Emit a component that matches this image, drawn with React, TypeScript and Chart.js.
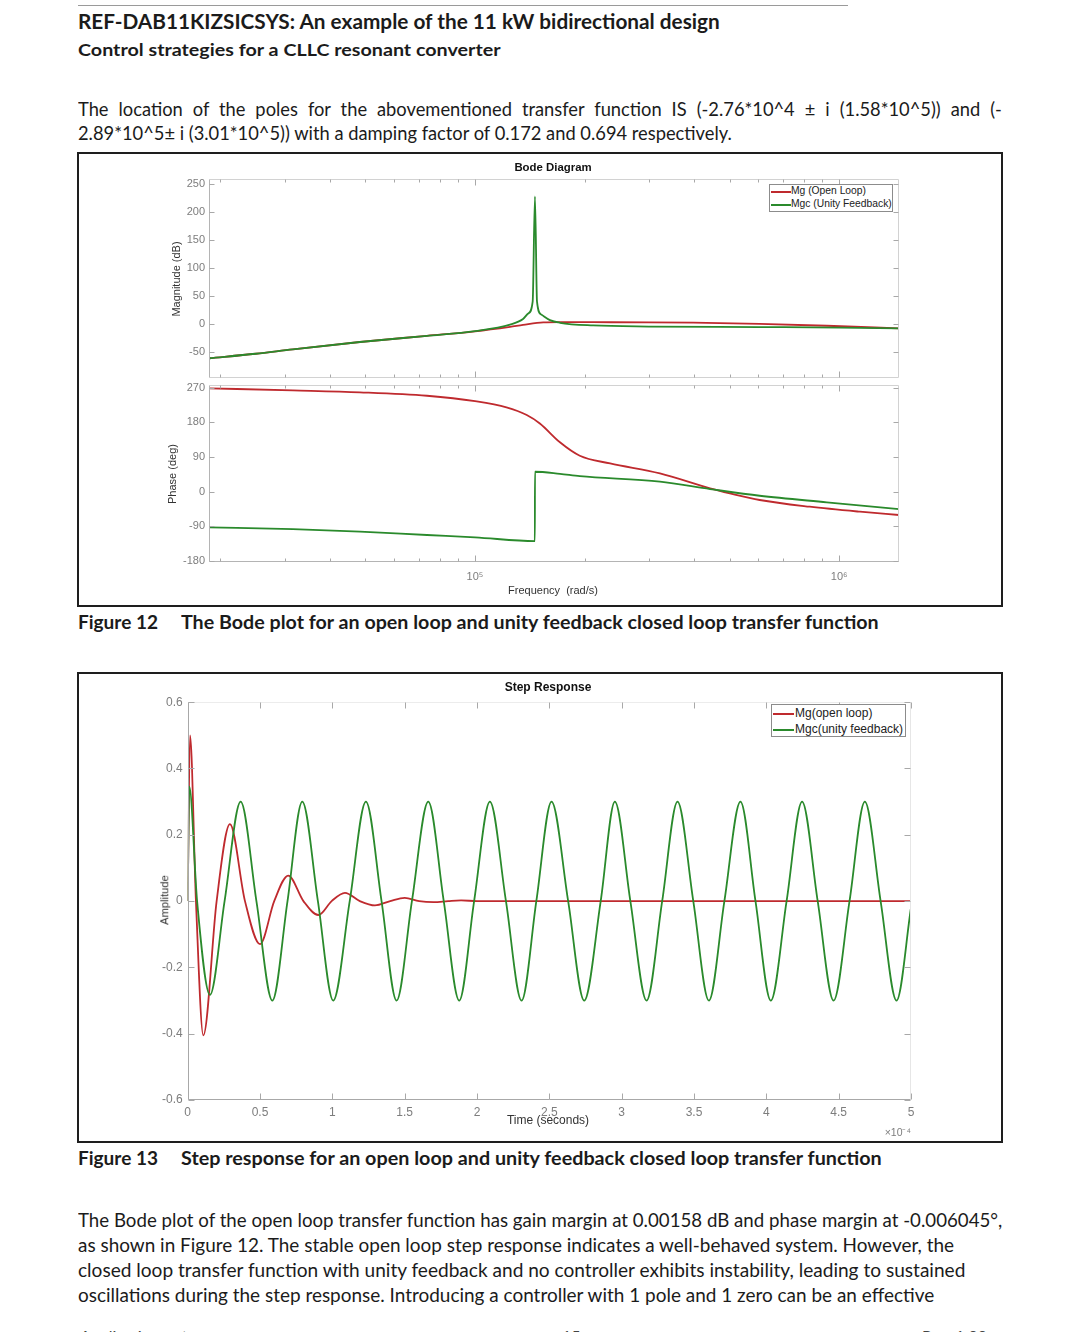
import React, { useEffect, useRef } from 'react';
import { Chart, registerables } from 'chart.js';
Chart.register(...registerables);

// ---------------- data ----------------
// Bode magnitude, open loop (rad/s, dB)
const magFreqOpen = [1.86e4, 2.5e4, 3.16e4, 4.83e4, 7.38e4, 1e5, 1.248e5, 1.355e5, 1.54e5, 1.711e5, 2.11e5, 3e5, 3.97e5, 6.05e5, 9.25e5, 1.46e6];
const magOpen = [-61, -53, -45, -32, -21, -13, -5, -1.5, 3, 3.5, 3.3, 3, 2.4, 0.5, -3, -7.8];
// Bode magnitude, unity feedback
const magFreqClosed = [1.86e4, 2.5e4, 3.16e4, 4.83e4, 7.38e4, 1e5, 1.248e5, 1.355e5, 1.4e5, 1.44e5, 1.461e5, 1.48e5, 1.52e5, 1.606e5, 1.711e5, 2.11e5, 3e5, 6e5, 1e6, 1.46e6];
const magClosed = [-61, -53, -45, -32, -21, -12.5, -1, 9, 19, 40, 228, 40, 17, 7, 2.3, -2.5, -4.5, -5.4, -6.2, -7.8];
// Bode phase, open loop (deg)
const phaseFreqOpen = [1.86e4, 3.16e4, 4.83e4, 7.38e4, 1e5, 1.22e5, 1.387e5, 1.507e5, 1.711e5, 1.94e5, 2.35e5, 3.22e5, 4.42e5, 5.01e5, 6.05e5, 8.3e5, 1.14e6, 1.46e6];
const phaseOpen = [268.4, 263, 258, 249, 235, 219, 199, 177, 128, 93, 73, 47, 8.3, -4.7, -22, -39.5, -52.5, -61];
// Bode phase, unity feedback
const phaseFreqClosed = [1.86e4, 3.16e4, 4.83e4, 7.38e4, 1e5, 1.46e5, 1.461e5, 1.711e5, 1.94e5, 3.22e5, 4.42e5, 6.05e5, 9.25e5, 1.46e6];
const phaseClosed = [-93, -98, -104, -113, -119, -129, 51.5, 46, 40, 25.5, 6.5, -11, -28, -45.5];

const bodeFreqTicks = [2e4, 3e4, 4e4, 5e4, 6e4, 7e4, 8e4, 9e4, 1e5, 2e5, 3e5, 4e5, 5e5, 6e5, 7e5, 8e5, 9e5, 1e6];
const bodeFreqMajor = [1e5, 1e6];
const bodeFreqMajorLabels = ['10\u2075', '10\u2076'];
const magTicks = [-50, 0, 50, 100, 150, 200, 250];
const magTickLabels = ['-50', '0', '50', '100', '150', '200', '250'];
const phaseTicks = [-180, -90, 0, 90, 180, 270];
const phaseTickLabels = ['-180', '-90', '0', '90', '180', '270'];

// Step response (time in units of 1e-4 s)
const stepTimeOpen = [0, 0.016, 0.057, 0.108, 0.2, 0.292, 0.396, 0.5, 0.598, 0.695, 0.8, 0.903, 0.995, 1.087, 1.19, 1.294, 1.4, 1.5, 1.6, 1.7, 1.8, 1.89, 2.0, 5.0];
const stepOpen = [0, 0.5, 0, -0.405, 0, 0.232, 0, -0.13, 0, 0.077, 0, -0.042, 0, 0.025, 0, -0.013, 0, 0.01, 0, -0.003, 0, 0.002, 0, 0];
const stepTimeClosed = [0, 0.011, 0.065, 0.154, 0.255, 0.366, 0.475, 0.585, 0.69, 0.792, 0.9, 1.006, 1.12, 1.232, 1.34, 1.444, 1.55, 1.663, 1.77, 1.877, 1.98, 2.089, 2.2, 2.308, 2.41, 2.515, 2.63, 2.741, 2.855, 2.953, 3.06, 3.172, 3.28, 3.386, 3.495, 3.603, 3.71, 3.821, 3.925, 4.031, 4.14, 4.247, 4.355, 4.465, 4.575, 4.681, 4.79, 4.9, 5.0];
const stepClosed = [0, 0.345, 0, -0.283, 0, 0.3, 0, -0.3, 0, 0.3, 0, -0.3, 0, 0.3, 0, -0.3, 0, 0.3, 0, -0.3, 0, 0.3, 0, -0.3, 0, 0.3, 0, -0.3, 0, 0.3, 0, -0.3, 0, 0.3, 0, -0.3, 0, 0.3, 0, -0.3, 0, 0.3, 0, -0.3, 0, 0.3, 0, -0.3, -0.02];
const stepXTicks = [0, 0.5, 1, 1.5, 2, 2.5, 3, 3.5, 4, 4.5, 5];
const stepXTickLabels = ['0', '0.5', '1', '1.5', '2', '2.5', '3', '3.5', '4', '4.5', '5'];
const stepYTicks = [-0.6, -0.4, -0.2, 0, 0.2, 0.4, 0.6];
const stepYTickLabels = ['-0.6', '-0.4', '-0.2', '0', '0.2', '0.4', '0.6'];

// ---------------- styles ----------------
const RED = '#bf2a2e';
const GREEN = '#2a8a2c';
const BODY = "Lato, 'Open Sans', sans-serif";
const PLOT = "'Liberation Sans', Arial, sans-serif";
const TICK_TXT = '#7d7d7d';
const LBL_TXT = '#333333';

let mctx: CanvasRenderingContext2D | null = null;
function textWidth(text: string, font: string) {
  if (!mctx) mctx = document.createElement('canvas').getContext('2d');
  mctx!.font = font;
  return mctx!.measureText(text).width;
}

type TP = { x: number; base: number; size: number; text: string; weight?: number; width?: number; justify?: boolean; scale?: number; family?: string; color?: string; asc?: number };
function Txt({ x, base, size, text, weight = 400, width, justify, scale = 1, family = BODY, color = '#1b1b1b', asc = 0.987 }: TP) {
  const font = `${weight} ${size}px ${family}`;
  const nat = textWidth(text, font);
  let sx = 1;
  let ws = 0;
  if (width && !justify) sx = width / nat;
  if (width && justify) {
    sx = scale;
    const n = text.split(' ').length - 1;
    ws = (width / sx - nat) / n;
  }
  return (
    <div style={{ position: 'absolute', left: x, top: base - asc * size, fontFamily: family, fontSize: size, fontWeight: weight, lineHeight: `${size * 1.2}px`, whiteSpace: 'pre', color, transform: `scaleX(${sx})`, transformOrigin: 'left top', wordSpacing: `${ws}px` }}>{text}</div>
  );
}

function Center({ x, y, text, size, weight = 400, color = LBL_TXT, rotate = false, family = PLOT }: any) {
  return (
    <div style={{ position: 'absolute', left: x, top: y, fontFamily: family, fontSize: size, fontWeight: weight, color, whiteSpace: 'pre', lineHeight: `${size * 1.2}px`, transform: `translate(-50%, -50%)${rotate ? ' rotate(-90deg)' : ''}` }}>{text}</div>
  );
}

function makeFrame(cfg: { top: string; right: string; bottom: string; left: string; tick: string; major: number[] | null; majorLen: number; minorLen: number; yLen: number }) {
  return {
    id: 'frame',
    afterDraw(chart: any) {
      const { ctx, chartArea: a } = chart;
      const xs = chart.scales.x;
      const ys = chart.scales.y;
      const L = Math.round(a.left) + 0.5, R = Math.round(a.right) - 0.5, T = Math.round(a.top) + 0.5, B = Math.round(a.bottom) - 0.5;
      ctx.save();
      ctx.lineWidth = 1;
      const line = (x1: number, y1: number, x2: number, y2: number, c: string) => {
        ctx.strokeStyle = c; ctx.beginPath(); ctx.moveTo(x1, y1); ctx.lineTo(x2, y2); ctx.stroke();
      };
      line(L, T, R, T, cfg.top);
      line(R, T, R, B, cfg.right);
      line(L, B, R, B, cfg.bottom);
      line(L, T, L, B, cfg.left);
      xs.ticks.forEach((t: any) => {
        const px = Math.round(xs.getPixelForValue(t.value)) + 0.5;
        const len = !cfg.major || cfg.major.includes(t.value) ? cfg.majorLen : cfg.minorLen;
        line(px, T, px, T + len, cfg.tick);
        line(px, B, px, B - len, cfg.tick);
      });
      ys.ticks.forEach((t: any) => {
        const py = Math.round(ys.getPixelForValue(t.value)) + 0.5;
        line(L, py, L + cfg.yLen, py, cfg.tick);
        line(R, py, R - cfg.yLen, py, cfg.tick);
      });
      ctx.restore();
    },
  };
}

function ChartBox({ left, top, width, height, make }: { left: number; top: number; width: number; height: number; make: () => any }) {
  const ref = useRef<HTMLCanvasElement>(null);
  useEffect(() => {
    const chart = new Chart(ref.current as HTMLCanvasElement, make());
    return () => chart.destroy();
  }, []);
  return <canvas ref={ref} width={width} height={height} style={{ position: 'absolute', left, top, width, height }} />;
}

const ds = (label: string, xs: number[], ys: number[], color: string, order: number) => ({
  label,
  data: xs.map((x, i) => ({ x, y: ys[i] })),
  borderColor: color,
  backgroundColor: color,
  borderWidth: 1.8,
  pointRadius: 0,
  cubicInterpolationMode: 'monotone',
  order,
});

const noGrid = { display: false, drawTicks: false };

function magConfig() {
  return {
    type: 'line',
    data: { datasets: [ds('Mg (Open Loop)', magFreqOpen, magOpen, RED, 1), ds('Mgc (Unity Feedback)', magFreqClosed, magClosed, GREEN, 0)] },
    options: {
      animation: false, responsive: false, events: [],
      layout: { padding: { left: 0, right: 11, top: 14, bottom: 10 } },
      plugins: { legend: { display: false }, tooltip: { enabled: false } },
      scales: {
        x: {
          type: 'logarithmic', min: 1.86e4, max: 1.46e6,
          ticks: { display: false }, grid: noGrid, border: { display: false },
          afterBuildTicks: (s: any) => { s.ticks = bodeFreqTicks.map((v) => ({ value: v })); },
          afterFit: (s: any) => { s.height = 0; },
        },
        y: {
          type: 'linear', min: -97, max: 259,
          ticks: { color: TICK_TXT, font: { family: PLOT, size: 11 }, padding: 4, callback: (_v: any, i: number) => magTickLabels[i] },
          grid: noGrid, border: { display: false },
          afterBuildTicks: (s: any) => { s.ticks = magTicks.map((v) => ({ value: v })); },
          afterFit: (s: any) => { s.width = 59; },
        },
      },
    },
    plugins: [makeFrame({ top: '#d2d2d2', right: '#d2d2d2', bottom: '#d2d2d2', left: '#b4b4b4', tick: '#a8a8a8', major: bodeFreqMajor, majorLen: 6, minorLen: 3, yLen: 5 })],
  };
}

function phaseConfig() {
  return {
    type: 'line',
    data: { datasets: [ds('Mg (Open Loop)', phaseFreqOpen, phaseOpen, RED, 1), ds('Mgc (Unity Feedback)', phaseFreqClosed, phaseClosed, GREEN, 0)] },
    options: {
      animation: false, responsive: false, events: [],
      layout: { padding: { left: 0, right: 11, top: 13, bottom: 5.7 } },
      plugins: { legend: { display: false }, tooltip: { enabled: false } },
      scales: {
        x: {
          type: 'logarithmic', min: 1.86e4, max: 1.46e6,
          ticks: {
            color: TICK_TXT, font: { family: PLOT, size: 11 }, padding: 8, autoSkip: false, maxRotation: 0,
            callback: (v: any) => { const k = bodeFreqMajor.indexOf(Number(v)); return k >= 0 ? bodeFreqMajorLabels[k] : ''; },
          },
          grid: noGrid, border: { display: false },
          afterBuildTicks: (s: any) => { s.ticks = bodeFreqTicks.map((v) => ({ value: v })); },
          afterFit: (s: any) => { s.height = 20; },
        },
        y: {
          type: 'linear', min: -184, max: 277,
          ticks: { color: TICK_TXT, font: { family: PLOT, size: 11 }, padding: 4, callback: (_v: any, i: number) => phaseTickLabels[i] },
          grid: noGrid, border: { display: false },
          afterBuildTicks: (s: any) => { s.ticks = phaseTicks.map((v) => ({ value: v })); },
          afterFit: (s: any) => { s.width = 59; },
        },
      },
    },
    plugins: [makeFrame({ top: '#d2d2d2', right: '#d2d2d2', bottom: '#b4b4b4', left: '#b4b4b4', tick: '#a8a8a8', major: bodeFreqMajor, majorLen: 6, minorLen: 3, yLen: 5 })],
  };
}

function stepConfig() {
  return {
    type: 'line',
    data: { datasets: [ds('Mg(open loop)', stepTimeOpen, stepOpen, RED, 1), ds('Mgc(unity feedback)', stepTimeClosed, stepClosed, GREEN, 0)] },
    options: {
      animation: false, responsive: false, events: [],
      layout: { padding: { left: 0, right: 19, top: 10, bottom: 10 } },
      plugins: { legend: { display: false }, tooltip: { enabled: false } },
      scales: {
        x: {
          type: 'linear', min: 0, max: 5,
          ticks: { color: TICK_TXT, font: { family: PLOT, size: 12 }, padding: 5, autoSkip: false, maxRotation: 0, callback: (_v: any, i: number) => stepXTickLabels[i] },
          grid: noGrid, border: { display: false },
          afterBuildTicks: (s: any) => { s.ticks = stepXTicks.map((v) => ({ value: v })); },
          afterFit: (s: any) => { s.height = 20; },
        },
        y: {
          type: 'linear', min: -0.6, max: 0.6,
          ticks: { color: TICK_TXT, font: { family: PLOT, size: 12 }, padding: 5, callback: (_v: any, i: number) => stepYTickLabels[i] },
          grid: noGrid, border: { display: false },
          afterBuildTicks: (s: any) => { s.ticks = stepYTicks.map((v) => ({ value: v })); },
          afterFit: (s: any) => { s.width = 47.7; },
        },
      },
    },
    plugins: [makeFrame({ top: '#ececec', right: '#e6e6e6', bottom: '#a8a8a8', left: '#a8a8a8', tick: '#a8a8a8', major: null, majorLen: 6, minorLen: 6, yLen: 6 })],
  };
}

const P1L1 = 'The location of the poles for the abovementioned transfer function IS (-2.76*10^4 \u00b1 i (1.58*10^5)) and (-';
const P1L2 = '2.89*10^5\u00b1 i (3.01*10^5)) with a damping factor of 0.172 and 0.694 respectively.';
const P2 = [
  'The Bode plot of the open loop transfer function has gain margin at 0.00158 dB and phase margin at -0.006045\u00b0,',
  'as shown in Figure 12. The stable open loop step response indicates a well-behaved system. However, the',
  'closed loop transfer function with unity feedback and no controller exhibits instability, leading to sustained',
  'oscillations during the step response. Introducing a controller with 1 pole and 1 zero can be an effective',
];
const P2W = [925, 877, 889, 857];
const P2B = [1227, 1252, 1277, 1302];

function Legend({ x, y, w, h, rows, size, lineW, rowY, textX }: any) {
  return (
    <>
      <div style={{ position: 'absolute', left: x, top: y, width: w, height: h, border: '1px solid #8c8c8c', background: '#fff', boxSizing: 'border-box' }} />
      {rows.map((r: any, i: number) => (
        <React.Fragment key={i}>
          <div style={{ position: 'absolute', left: x + 2, top: rowY[i] - 1, width: lineW, height: 2, background: r.color }} />
          <div style={{ position: 'absolute', left: textX, top: rowY[i] - size * 0.6 - 0.5, fontFamily: PLOT, fontSize: size, lineHeight: `${size * 1.2}px`, color: '#222', whiteSpace: 'pre' }}>{r.label}</div>
        </React.Fragment>
      ))}
    </>
  );
}

export default function App() {
  const p1Scale = 655 / textWidth(P1L2, `400 18.5px ${BODY}`);
  return (
    <div style={{ position: 'absolute', left: 0, top: 0, width: 1080, height: 1332, overflow: 'hidden', background: '#fff' }}>
      <div style={{ position: 'absolute', left: 78, top: 5, width: 770, height: 1, background: '#9a9a9a' }} />
      <Txt x={78} base={29} size={21} weight={700} width={643} text="REF-DAB11KIZSICSYS: An example of the 11 kW bidirectional design" />
      <Txt x={78} base={56} size={17.5} weight={700} width={423} text="Control strategies for a CLLC resonant converter" />
      <Txt x={78} base={116} size={18.5} justify scale={p1Scale} width={925} text={P1L1} />
      <Txt x={78} base={140} size={18.5} width={655} text={P1L2} />

      {/* Figure 12 */}
      <div style={{ position: 'absolute', left: 77, top: 152, width: 926, height: 455, border: '2px solid #1e1e1e', boxSizing: 'border-box' }} />
      <ChartBox left={150} top={165} width={760} height={224} make={magConfig} />
      <ChartBox left={150} top={372} width={760} height={216} make={phaseConfig} />
      <Center x={553} y={168} text="Bode Diagram" size={11.4} weight={700} color="#111" />
      <Center x={177} y={279} text="Magnitude (dB)" size={11} rotate />
      <Center x={173} y={474} text="Phase (deg)" size={11} rotate />
      <Center x={553} y={591} text="Frequency  (rad/s)" size={11} />
      <Legend x={769} y={184} w={124} h={28} size={10.3} lineW={20} textX={791} rowY={[191.5, 204.5]}
        rows={[{ label: 'Mg (Open Loop)', color: RED }, { label: 'Mgc (Unity Feedback)', color: GREEN }]} />
      <Txt x={78} base={630} size={18} weight={700} width={80} text="Figure 12" />
      <Txt x={181} base={630} size={18} weight={700} width={699} text="The Bode plot for an open loop and unity feedback closed loop transfer function" />

      {/* Figure 13 */}
      <div style={{ position: 'absolute', left: 77, top: 672, width: 926, height: 471, border: '2px solid #1e1e1e', boxSizing: 'border-box' }} />
      <ChartBox left={140} top={690} width={790} height={440} make={stepConfig} />
      <Center x={548} y={687} text="Step Response" size={12} weight={700} color="#111" />
      <Center x={165} y={900} text="Amplitude" size={11.2} rotate />
      <Center x={548} y={1120} text="Time (seconds)" size={12} />
      <div style={{ position: 'absolute', right: 1080 - 911, top: 1125, fontFamily: PLOT, fontSize: 10.5, color: TICK_TXT, whiteSpace: 'pre' }}>{'\u00d710\u207b\u2074'}</div>
      <Legend x={771} y={704} w={135} h={33} size={12} lineW={21} textX={795} rowY={[714, 730]}
        rows={[{ label: 'Mg(open loop)', color: RED }, { label: 'Mgc(unity feedback)', color: GREEN }]} />
      <Txt x={78} base={1166} size={18} weight={700} width={80} text="Figure 13" />
      <Txt x={181} base={1166} size={18} weight={700} width={702} text="Step response for an open loop and unity feedback closed loop transfer function" />

      {P2.map((t, i) => (
        <Txt key={i} x={78} base={P2B[i]} size={18.5} width={P2W[i]} text={t} />
      ))}
      <Txt x={80} base={1341.5} size={16} text="Application note" color="#444" />
      <Txt x={562} base={1341.5} size={16} text="15" color="#444" />
      <Txt x={922} base={1341.5} size={16} text="Rev. 1.00" color="#444" />
    </div>
  );
}
